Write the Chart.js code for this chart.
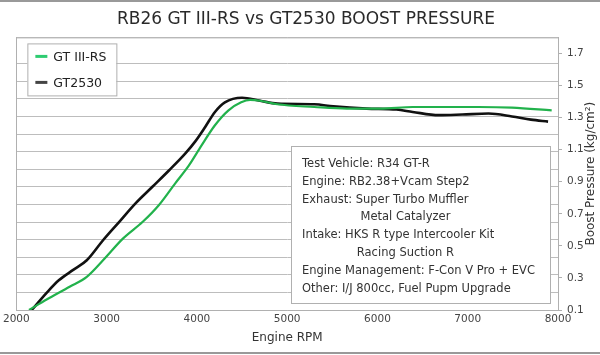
<!DOCTYPE html>
<html><head><meta charset="utf-8">
<script src="https://cdn.jsdelivr.net/npm/chart.js@4.4.1/dist/chart.umd.min.js"></script>
<style>
html,body{margin:0;padding:0;background:#fff;}
#wrap{position:relative;width:600px;height:355px;}
canvas{display:block;}
</style></head><body>
<div id="wrap"><canvas id="c" width="600" height="355"></canvas></div>
<script>
const chartTitle = 'RB26 GT III-RS vs GT2530 BOOST PRESSURE';
const seriesLabels = ['GT III-RS', 'GT2530'];
const rpmIII   = [2140, 2340, 2590, 2780, 2960, 3180, 3400, 3580, 3760, 3910, 4050, 4200, 4350, 4490, 4590, 4700, 4890, 5300, 5660, 6030, 6390, 6760, 7120, 7490, 7930];
const boostIII = [0.10, 0.167, 0.245, 0.307, 0.41, 0.545, 0.65, 0.755, 0.89, 1.00, 1.125, 1.252, 1.345, 1.395, 1.41, 1.405, 1.383, 1.366, 1.356, 1.356, 1.366, 1.366, 1.366, 1.362, 1.345];
const rpm2530   = [2170, 2340, 2470, 2630, 2780, 2960, 3140, 3320, 3510, 3690, 3870, 3980, 4090, 4200, 4310, 4500, 4700, 4890, 5300, 5510, 5880, 6210, 6390, 6680, 6940, 7230, 7490, 7700, 7890];
const boost2530 = [0.10, 0.21, 0.285, 0.35, 0.41, 0.535, 0.65, 0.765, 0.87, 0.97, 1.075, 1.15, 1.24, 1.335, 1.395, 1.424, 1.405, 1.387, 1.383, 1.37, 1.356, 1.35, 1.335, 1.315, 1.319, 1.325, 1.307, 1.287, 1.275];
const xTickValues = [2000, 3000, 4000, 5000, 6000, 7000, 8000];
const yTickValues = [0.1, 0.3, 0.5, 0.7, 0.9, 1.1, 1.3, 1.5, 1.7];
const yTickLabels = ['0.1', '0.3', '0.5', '0.7', '0.9', '1.1', '1.3', '1.5', '1.7'];
const xTitle = 'Engine RPM';
const yTitle = 'Boost Pressure (kg/cm\u00B2)';
const specLines = [
  'Test Vehicle: R34 GT-R',
  'Engine: RB2.38+Vcam Step2',
  'Exhaust: Super Turbo Muffler',
  '                Metal Catalyzer',
  'Intake: HKS R type Intercooler Kit',
  '               Racing Suction R',
  'Engine Management: F-Con V Pro + EVC',
  'Other: I/J 800cc, Fuel Pupm Upgrade'
];

const FONT = 'DejaVu Sans';
const colors = ['#22b24c', '#111111'];
const legendColors = ['#2ecc71', '#444444'];

function pts(xs, ys) { return xs.map((x, i) => ({x: x, y: ys[i]})); }

const decor = {
  id: 'decor',
  beforeDraw(chart) {
    const ctx = chart.ctx;
    ctx.save();
    ctx.fillStyle = '#fff';
    ctx.fillRect(0, 0, chart.width, chart.height);
    ctx.strokeStyle = '#999';
    ctx.lineWidth = 2;
    ctx.beginPath();
    ctx.moveTo(0, 1); ctx.lineTo(chart.width, 1);
    ctx.moveTo(0, chart.height - 2); ctx.lineTo(chart.width, chart.height - 2);
    ctx.stroke();
    ctx.restore();
  },
  afterDraw(chart) {
    const ctx = chart.ctx;
    const a = chart.chartArea;
    ctx.save();
    ctx.strokeStyle = '#b5b5b5';
    ctx.lineWidth = 1;
    ctx.beginPath();
    ctx.moveTo(a.left, a.top + 0.5); ctx.lineTo(a.right, a.top + 0.5);
    ctx.stroke();

    // legend box
    const lx = a.left + 11, ly = a.top + 6, lw = 89, lh = 52;
    ctx.fillStyle = '#fff';
    ctx.fillRect(lx, ly, lw, lh);
    ctx.strokeStyle = '#b0b0b0';
    ctx.strokeRect(lx + 0.5, ly + 0.5, lw, lh);
    ctx.font = '12.5px "' + FONT + '"';
    ctx.textBaseline = 'middle';
    chart.data.datasets.forEach((ds, i) => {
      const yy = ly + 13 + i * 26;
      ctx.strokeStyle = legendColors[i];
      ctx.lineWidth = 3;
      ctx.beginPath();
      ctx.moveTo(lx + 8, yy); ctx.lineTo(lx + 20, yy);
      ctx.stroke();
      ctx.fillStyle = '#222';
      ctx.fillText(ds.label, lx + 26, yy + 1);
    });

    // spec box
    const bw = 259, bh = 157;
    const bx = a.right - 8 - bw, by = a.bottom - 7 - bh;
    ctx.fillStyle = '#fff';
    ctx.fillRect(bx, by, bw, bh);
    ctx.strokeStyle = '#b0b0b0';
    ctx.lineWidth = 1;
    ctx.strokeRect(bx + 0.5, by + 0.5, bw, bh);
    ctx.font = '11.5px "' + FONT + '"';
    ctx.fillStyle = '#333';
    ctx.textBaseline = 'middle';
    specLines.forEach((t, i) => {
      ctx.fillText(t, bx + 11, by + 18 + i * 17.8);
    });

    // right axis title, reading bottom to top
    ctx.font = '12px "' + FONT + '"';
    ctx.fillStyle = '#333';
    ctx.textAlign = 'center';
    ctx.textBaseline = 'middle';
    ctx.translate(591, (a.top + a.bottom) / 2);
    ctx.rotate(-Math.PI / 2);
    ctx.fillText(yTitle, 0, 0);
    ctx.restore();
  }
};

new Chart(document.getElementById('c'), {
  type: 'line',
  data: {
    datasets: [
      { label: seriesLabels[0], data: pts(rpmIII, boostIII), borderColor: colors[0], borderWidth: 2.2, pointRadius: 0, cubicInterpolationMode: 'monotone', fill: false, yAxisID: 'y' },
      { label: seriesLabels[1], data: pts(rpm2530, boost2530), borderColor: colors[1], borderWidth: 2.6, pointRadius: 0, cubicInterpolationMode: 'monotone', fill: false, yAxisID: 'y' }
    ]
  },
  options: {
    responsive: false,
    animation: false,
    devicePixelRatio: 1,
    layout: { padding: { left: 12, right: 0, top: 0, bottom: 6 } },
    plugins: {
      legend: { display: false },
      tooltip: { enabled: false },
      title: { display: true, text: chartTitle, color: '#2a2a2a', font: { family: FONT, size: 17, weight: 'normal' }, padding: { top: 9, bottom: 8 } }
    },
    scales: {
      x: {
        type: 'linear', min: 2000, max: 8000,
        afterBuildTicks: s => { s.ticks = xTickValues.map(v => ({ value: v })); },
        ticks: { color: '#444', font: { family: FONT, size: 10.5 }, padding: 3, maxRotation: 0, callback: v => String(v) },
        grid: { display: false, drawTicks: false },
        border: { display: true, color: '#b0b0b0' },
        title: { display: true, text: xTitle, color: '#333', font: { family: FONT, size: 12 }, padding: { top: 4, bottom: 4 } },
        afterFit: s => { s.height = 39; }
      },
      yg: {
        type: 'linear', position: 'left', min: 0, max: 15.5,
        ticks: { display: false, stepSize: 1 },
        grid: { color: '#bdbdbd', drawTicks: false },
        border: { display: true, color: '#b0b0b0' },
        afterFit: s => { s.width = 0; }
      },
      y: {
        type: 'linear', position: 'right', min: 0.1, max: 1.8,
        afterBuildTicks: s => { s.ticks = yTickValues.map(v => ({ value: v })); },
        ticks: { color: '#444', font: { family: FONT, size: 10.5 }, padding: 5,
          callback: (v) => { const i = yTickValues.findIndex(t => Math.abs(t - v) < 1e-6); return i >= 0 ? yTickLabels[i] : ''; } },
        grid: { drawOnChartArea: false, drawTicks: true, tickLength: 4, color: '#b0b0b0' },
        border: { display: true, color: '#b0b0b0' },
        afterFit: s => { s.width = 42; }
      }
    }
  },
  plugins: [decor]
});
</script>
</body></html>
